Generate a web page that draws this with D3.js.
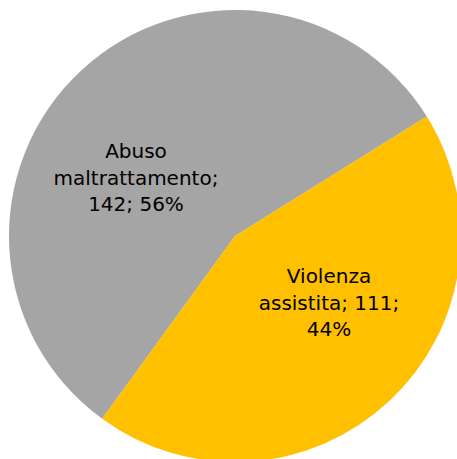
<!DOCTYPE html>
<html>
<head>
<meta charset="utf-8">
<script src="https://cdn.jsdelivr.net/npm/d3@7"></script>
<style>
html,body{margin:0;padding:0;background:#fff;overflow:hidden;}
svg{display:block;}
</style>
</head>
<body>
<svg id="chart" width="457" height="459"></svg>
<script>
const categories = ["Abuso maltrattamento", "Violenza assistita"];
const values = [142, 111];
const percents = ["56%", "44%"];
const colors = ["#A5A5A5", "#FFC000"];
const labelLines = [
  ["Abuso", "maltrattamento;", "142; 56%"],
  ["Violenza", "assistita; 111;", "44%"]
];

const svg = d3.select("#chart");
const cx = 235, cy = 236, r = 226;
const start = 216 * Math.PI / 180;
const pie = d3.pie().sort(null).startAngle(start).endAngle(start + 2 * Math.PI);
const arcs = pie(values);
const arc = d3.arc().innerRadius(0).outerRadius(r);
const g = svg.append("g").attr("transform", `translate(${cx},${cy})`);
g.selectAll("path").data(arcs).enter().append("path")
  .attr("d", arc)
  .attr("fill", (d, i) => colors[i]);

const labelPos = [[136 - cx, 158 - cy], [329 - cx, 283 - cy]];
const lab = g.selectAll("text.lab").data(arcs).enter().append("text")
  .attr("class", "lab")
  .attr("text-anchor", "middle")
  .attr("font-family", "'DejaVu Sans', sans-serif")
  .attr("font-size", 20)
  .attr("fill", "#000");
lab.each(function(d, i) {
  const t = d3.select(this);
  labelLines[i].forEach((ln, j) => {
    t.append("tspan").attr("x", labelPos[i][0]).attr("y", labelPos[i][1] + j * 26.5).text(ln);
  });
});
</script>
</body>
</html>
